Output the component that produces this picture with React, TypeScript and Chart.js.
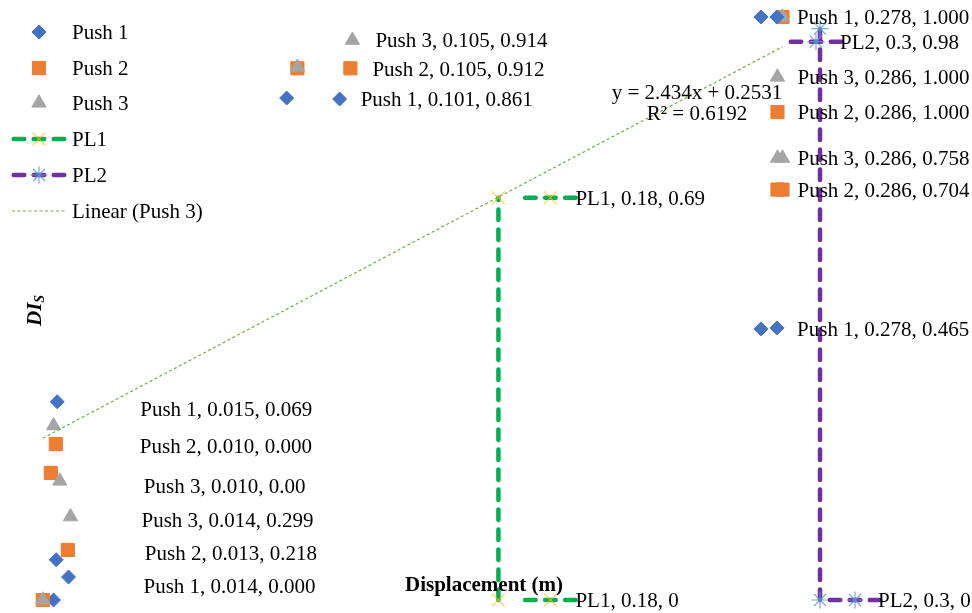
import React, { useEffect, useRef } from 'react';
import { Chart, registerables } from 'chart.js';
import { drawPoint } from 'chart.js/helpers';

Chart.register(...registerables);

// ---------- data ----------
const seriesNames = ['Push 1', 'Push 2', 'Push 3', 'PL1', 'PL2'];
const trendName = 'Linear (Push 3)';

const push1X = [0.014, 0.015, 0.101, 0.278, 0.278];
const push1Y = [0.0, 0.069, 0.861, 0.465, 1.0];
const push2X = [0.01, 0.013, 0.105, 0.286, 0.286];
const push2Y = [0.0, 0.218, 0.912, 0.704, 1.0];
const push3X = [0.01, 0.014, 0.105, 0.286, 0.286];
const push3Y = [0.0, 0.299, 0.914, 0.758, 1.0];
const pl1X = [0.18, 0.18];
const pl1Y = [0, 0.69];
const pl2X = [0.3, 0.3];
const pl2Y = [0, 0.98];

const push1Labels = ['Push 1, 0.014, 0.000', 'Push 1, 0.015, 0.069', 'Push 1, 0.101, 0.861', 'Push 1, 0.278, 0.465', 'Push 1, 0.278, 1.000'];
const push2Labels = ['Push 2, 0.010, 0.000', 'Push 2, 0.013, 0.218', 'Push 2, 0.105, 0.912', 'Push 2, 0.286, 0.704', 'Push 2, 0.286, 1.000'];
const push3Labels = ['Push 3, 0.010, 0.00', 'Push 3, 0.014, 0.299', 'Push 3, 0.105, 0.914', 'Push 3, 0.286, 0.758', 'Push 3, 0.286, 1.000'];
const pl1Labels = ['PL1, 0.18, 0', 'PL1, 0.18, 0.69'];
const pl2Labels = ['PL2, 0.3, 0', 'PL2, 0.3, 0.98'];

const xAxisTitle = 'Displacement (m)';
const yAxisTitleMain = 'DI';
const yAxisTitleSub = 'S';
const equationLines = ['y = 2.434x + 0.2531', 'R\u00B2 = 0.6192'];

// ---------- label layout (pixel offsets from the point: key dx, key dy, text dx, text dy) ----------
const push1Layout = [[15, -23, 90, -14], [1, -158, 84, -151], [53, 1, 74, 1], [16, -1, 36, 0], [16, 0, 36, 0]];
const push2Layout = [[13, -156, 97, -154], [17, 77, 94, 80], [53, 0, 75, 1], [-5, 0, 15, 0], [-5, 95, 15, 95]];
const push3Layout = [[17, -119, 101, -114], [17, 91, 88, 94], [55, -27, 78, -27], [-5, 0, 15, 0], [-5, 60, 15, 60]];
const pl1Layout = [[52, 0, 77, 0], [52, 0, 77, 0]];
const pl2Layout = [[35, 0, 58, 0], [-4, 13, 20, 13]];

const FONT = '"Liberation Serif", "Times New Roman", serif';
const FS = 21;
const TY = 1.5; // baseline nudge for middle-aligned text

type Style = {
  marker: string;
  radius: number;
  color: string;
  line?: string;
  lineWidth?: number;
};

const styles: Style[] = [
  { marker: 'rectRot', radius: 7, color: '#4472C4' },
  { marker: 'rect', radius: 9.3, color: '#ED7D31' },
  { marker: 'triangle', radius: 8.2, color: '#A5A5A5' },
  { marker: 'crossRot', radius: 9, color: 'rgba(255,192,0,0.75)', line: '#00B050', lineWidth: 4.5 },
  { marker: 'star', radius: 8.5, color: 'rgba(91,155,213,0.85)', line: '#7030A0', lineWidth: 4.5 },
];
const LINE_DASH = [10.5, 9.5];
const TREND_COLOR = '#70AD47';
const TREND_DASH = [3, 2.5];

const toPts = (xs: number[], ys: number[]) => xs.map((x, i) => ({ x, y: ys[i] }));

function regression(xs: number[], ys: number[]) {
  const n = xs.length;
  const mx = xs.reduce((a, b) => a + b, 0) / n;
  const my = ys.reduce((a, b) => a + b, 0) / n;
  let sxy = 0;
  let sxx = 0;
  for (let i = 0; i < n; i++) {
    sxy += (xs[i] - mx) * (ys[i] - my);
    sxx += (xs[i] - mx) * (xs[i] - mx);
  }
  const slope = sxy / sxx;
  return { slope, intercept: my - slope * mx };
}

function drawMarker(ctx: CanvasRenderingContext2D, s: Style, x: number, y: number) {
  ctx.save();
  ctx.setLineDash([]);
  ctx.fillStyle = s.color;
  ctx.strokeStyle = s.color;
  ctx.lineWidth = s.line ? 1.2 : 1;
  drawPoint(ctx, { pointStyle: s.marker as any, radius: s.radius, rotation: 0, borderWidth: ctx.lineWidth } as any, x, y);
  ctx.restore();
}

function drawKey(ctx: CanvasRenderingContext2D, s: Style, x: number, y: number) {
  if (s.line) {
    ctx.save();
    ctx.strokeStyle = s.line;
    ctx.lineWidth = s.lineWidth || 4;
    ctx.lineCap = 'round';
    ctx.setLineDash(LINE_DASH);
    ctx.beginPath();
    ctx.moveTo(x - 25.25, y);
    ctx.lineTo(x + 25.25, y);
    ctx.stroke();
    ctx.restore();
  }
  drawMarker(ctx, s, x, y);
}

const seriesLabels = [push1Labels, push2Labels, push3Labels, pl1Labels, pl2Labels];
const seriesLayouts = [push1Layout, push2Layout, push3Layout, pl1Layout, pl2Layout];

const overlayPlugin = {
  id: 'overlay',
  afterDatasetsDraw(chart: any) {
    const ctx: CanvasRenderingContext2D = chart.ctx;
    ctx.save();
    ctx.fillStyle = '#000';
    ctx.textBaseline = 'middle';

    // data labels with legend keys
    for (let di = 0; di < 5; di++) {
      const meta = chart.getDatasetMeta(di);
      const labels = seriesLabels[di];
      const layout = seriesLayouts[di];
      labels.forEach((txt, i) => {
        const el = meta.data[i];
        if (!el) return;
        const [kdx, kdy, tdx, tdy] = layout[i];
        drawKey(ctx, styles[di], el.x + kdx, el.y + kdy);
        ctx.fillStyle = '#000';
        ctx.font = `${FS}px ${FONT}`;
        ctx.textAlign = 'left';
        ctx.fillText(txt, el.x + tdx, el.y + tdy + TY);
      });
    }

    // trendline equation
    ctx.font = `${FS}px ${FONT}`;
    ctx.textAlign = 'center';
    ctx.fillStyle = '#000';
    ctx.fillText(equationLines[0], 697, 92 + TY);
    ctx.fillText(equationLines[1], 697, 113 + TY);

    // legend
    const legendY = [32, 68, 103, 139, 175, 211];
    seriesNames.forEach((name, i) => {
      drawKey(ctx, styles[i], 39, legendY[i]);
      ctx.fillStyle = '#000';
      ctx.font = `${FS}px ${FONT}`;
      ctx.textAlign = 'left';
      ctx.fillText(name, 72, legendY[i] + TY);
    });
    ctx.save();
    ctx.strokeStyle = TREND_COLOR;
    ctx.lineWidth = 1.2;
    ctx.setLineDash(TREND_DASH);
    ctx.beginPath();
    ctx.moveTo(12, legendY[5]);
    ctx.lineTo(66, legendY[5]);
    ctx.stroke();
    ctx.restore();
    ctx.fillStyle = '#000';
    ctx.font = `${FS}px ${FONT}`;
    ctx.textAlign = 'left';
    ctx.fillText(trendName, 72, legendY[5] + TY);

    // x axis title
    ctx.font = `bold ${FS}px ${FONT}`;
    ctx.textAlign = 'left';
    ctx.fillText(xAxisTitle, 405, 584 + TY);

    // y axis title (rotated)
    ctx.save();
    ctx.translate(41, 326);
    ctx.rotate(-Math.PI / 2);
    ctx.textBaseline = 'alphabetic';
    ctx.font = `italic bold ${FS}px ${FONT}`;
    ctx.fillText(yAxisTitleMain, 0, 0);
    const w = ctx.measureText(yAxisTitleMain).width;
    ctx.font = `italic bold 14px ${FONT}`;
    ctx.fillText(yAxisTitleSub, w, 3);
    ctx.restore();

    ctx.restore();
  },
};

export default function App() {
  const ref = useRef<HTMLCanvasElement | null>(null);

  useEffect(() => {
    if (!ref.current) return;
    const reg = regression(push3X, push3Y);
    const tMin = Math.min(...push3X);
    const tMax = Math.max(...push3X);
    const trendPts = [
      { x: tMin, y: reg.intercept + reg.slope * tMin },
      { x: tMax, y: reg.intercept + reg.slope * tMax },
    ];
    const pointDs = (i: number, data: any[]) => ({
      label: seriesNames[i],
      data,
      order: -i,
      showLine: !!styles[i].line,
      borderColor: styles[i].line || styles[i].color,
      borderWidth: styles[i].line ? styles[i].lineWidth : 0,
      borderDash: styles[i].line ? LINE_DASH : [],
      borderCapStyle: 'round',
      pointStyle: styles[i].marker,
      pointRadius: styles[i].radius,
      pointBackgroundColor: styles[i].color,
      pointBorderColor: styles[i].color,
      pointBorderWidth: styles[i].line ? 1.2 : 1,
      pointHoverRadius: styles[i].radius,
      clip: false,
    });
    const chart = new Chart(ref.current, {
      type: 'scatter',
      data: {
        datasets: [
          pointDs(0, toPts(push1X, push1Y)),
          pointDs(1, toPts(push2X, push2Y)),
          pointDs(2, toPts(push3X, push3Y)),
          pointDs(3, toPts(pl1X, pl1Y)),
          pointDs(4, toPts(pl2X, pl2Y)),
          {
            label: trendName,
            data: trendPts,
            order: -5,
            showLine: true,
            borderColor: TREND_COLOR,
            borderWidth: 1.2,
            borderDash: TREND_DASH,
            pointRadius: 0,
            pointHoverRadius: 0,
            clip: false,
          } as any,
        ] as any,
      },
      options: {
        animation: false,
        responsive: true,
        maintainAspectRatio: false,
        layout: { padding: { left: 16, right: 18, top: 17, bottom: 13 } },
        scales: {
          x: { type: 'linear', min: 0, max: 0.35, display: false },
          y: { type: 'linear', min: 0, max: 1, display: false },
        },
        plugins: {
          legend: { display: false },
          tooltip: { enabled: false },
        },
        events: [],
      } as any,
      plugins: [overlayPlugin],
    });
    return () => chart.destroy();
  }, []);

  return (
    <div style={{ position: 'fixed', left: 0, top: 0, width: 972, height: 613, background: '#fff' }}>
      <canvas ref={ref} />
    </div>
  );
}
